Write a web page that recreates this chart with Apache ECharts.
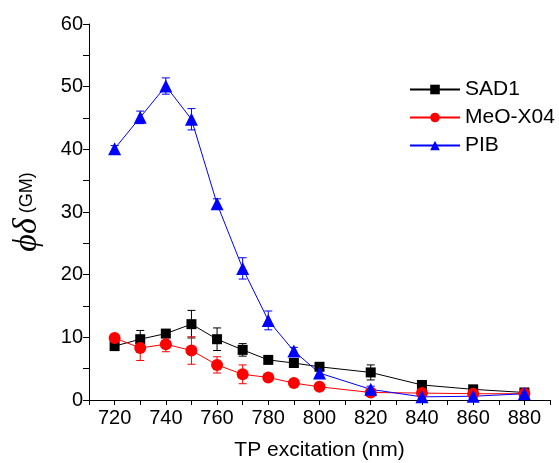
<!DOCTYPE html>
<html><head><meta charset="utf-8">
<script src="https://cdn.jsdelivr.net/npm/echarts@6/dist/echarts.min.js"></script>
<style>html,body{margin:0;padding:0;background:#fff}#c{width:559px;height:463px}</style>
</head><body><div id="c"></div>
<script>
const wavelengths = [720,730,740,750,760,770,780,790,800,820,840,860,880];
const sad1 = [8.6,9.7,10.6,12.1,9.7,8.0,6.4,5.9,5.3,4.4,2.4,1.7,1.2];
const sad1Err = [0.4,1.4,0.6,2.2,1.8,1.0,0.4,0.4,0.4,1.2,0.3,0.6,0.4];
const meo = [9.9,8.3,8.9,7.9,5.6,4.1,3.6,2.7,2.1,1.2,1.1,1.0,1.0];
const meoErr = [0.5,2.0,1.2,2.2,1.3,1.5,0.3,0.3,0.3,0.3,0.3,0.3,0.3];
const pib = [40.1,45.1,50.1,44.8,31.3,21.0,12.7,7.8,4.3,1.7,0.5,0.6,1.0];
const pibErr = [0.5,1.0,1.3,1.7,0.8,1.7,1.5,0.6,0.5,0.5,0.3,0.3,0.4];
const seriesNames = ['SAD1','MeO-X04','PIB'];
const colors = ['#000000','#ff0000','#0000ff'];

const font = 'Liberation Sans, Arial, sans-serif';
function pairs(v){return wavelengths.map((x,i)=>[x,v[i]]);}
function errData(v,e){return wavelengths.map((x,i)=>[x,v[i],e[i]]);}
function errSeries(v,e,color){
  return {type:'custom', silent:true, z:1, data:errData(v,e),
    renderItem:function(params,api){
      const x=api.value(0), y=api.value(1), er=api.value(2);
      const top=api.coord([x,y+er]), bot=api.coord([x,y-er]);
      const w=4;
      const st={stroke:color,lineWidth:1};
      return {type:'group',children:[
        {type:'line',shape:{x1:top[0],y1:top[1],x2:bot[0],y2:bot[1]},style:st},
        {type:'line',shape:{x1:top[0]-w,y1:top[1],x2:top[0]+w,y2:top[1]},style:st},
        {type:'line',shape:{x1:bot[0]-w,y1:bot[1],x2:bot[0]+w,y2:bot[1]},style:st}
      ]};
    }};
}
const chart = echarts.init(document.getElementById('c'));
chart.setOption({
  animation:false,
  backgroundColor:'#fff',
  grid:{left:89,right:9,top:24,bottom:63,containLabel:false,outerBoundsMode:'none'},
  legend:{orient:'vertical',left:404,top:74,itemWidth:50,itemHeight:12,itemGap:7,
    data:seriesNames,textStyle:{fontFamily:font,fontSize:21,color:'#000'}},
  xAxis:{type:'value',min:710,max:890,interval:10,
    axisLine:{lineStyle:{color:'#000',width:1}},
    axisTick:{length:5,lineStyle:{color:'#000'}},
    axisLabel:{color:'#000',fontFamily:font,fontSize:20,margin:8,
      formatter:v=>(v%20===0?String(v):'')},
    splitLine:{show:false},
    name:'TP excitation (nm)',nameLocation:'middle',nameGap:40,
    nameTextStyle:{fontFamily:font,fontSize:21,color:'#000'}},
  yAxis:{type:'value',min:0,max:60,interval:10,
    axisLine:{show:true,lineStyle:{color:'#000',width:1}},
    axisTick:{show:true,length:6,lineStyle:{color:'#000'}},
    minorTick:{show:true,splitNumber:2,length:6,lineStyle:{color:'#000'}},
    axisLabel:{color:'#000',fontFamily:font,fontSize:20,margin:6},
    splitLine:{show:false},
    name:'{a|ϕδ}{b| (GM)}',nameLocation:'middle',nameGap:44,nameRotate:90,
    nameTextStyle:{rich:{
      a:{fontFamily:'Liberation Serif, serif',fontStyle:'italic',fontSize:34,lineHeight:36,verticalAlign:'middle',color:'#000'},
      b:{fontFamily:font,fontSize:18,lineHeight:36,verticalAlign:'middle',color:'#000'}}}},
  series:[
    errSeries(sad1,sad1Err,colors[0]),
    errSeries(meo,meoErr,colors[1]),
    errSeries(pib,pibErr,colors[2]),
    {name:seriesNames[0],type:'line',data:pairs(sad1),symbol:'rect',symbolSize:10,z:3,
      itemStyle:{color:colors[0]},lineStyle:{color:colors[0],width:1}},
    {name:seriesNames[1],type:'line',data:pairs(meo),symbol:'circle',symbolSize:12,z:3,
      itemStyle:{color:colors[1]},lineStyle:{color:colors[1],width:1}},
    {name:seriesNames[2],type:'line',data:pairs(pib),symbol:'triangle',symbolSize:13,z:3,
      itemStyle:{color:colors[2]},lineStyle:{color:colors[2],width:1}}
  ]
});
</script></body></html>
